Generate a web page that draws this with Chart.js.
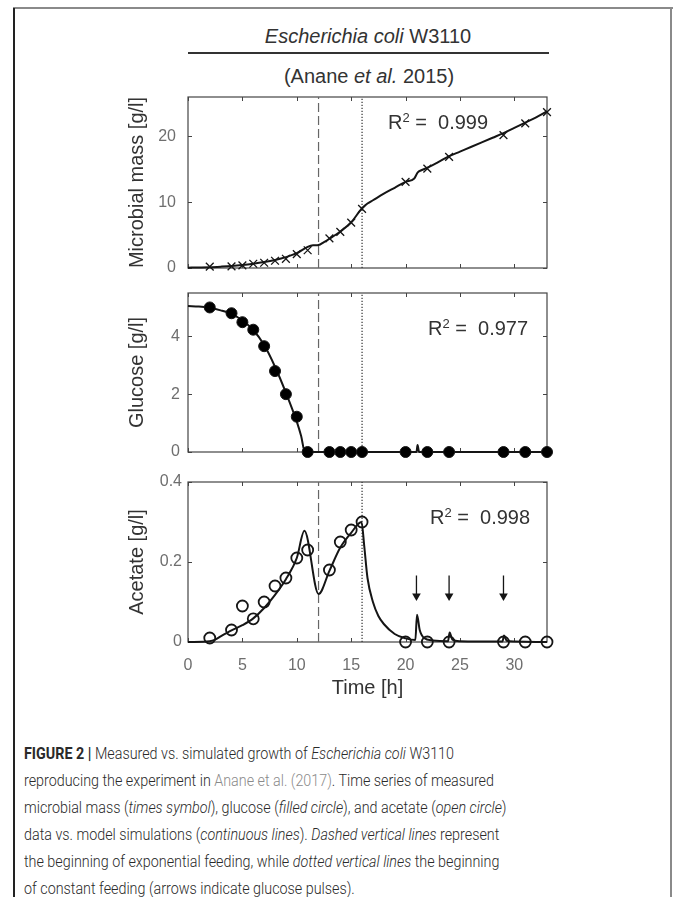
<!DOCTYPE html>
<html><head><meta charset="utf-8">
<script src="https://cdn.jsdelivr.net/npm/chart.js@4.4.1/dist/chart.umd.min.js"></script>
<style>
html,body{margin:0;padding:0;background:#fff;}
body{position:relative;width:674px;height:897px;overflow:hidden;font-family:"Liberation Sans",Arial,sans-serif;color:#333;}
.abs{position:absolute;}
.ctr{position:absolute;transform:translate(-50%,-50%);white-space:nowrap;font-size:20px;color:#333;}
.r2{position:absolute;transform:translateY(-50%);white-space:nowrap;font-size:20px;color:#333;}
.r2 sup{font-size:13px;vertical-align:0;position:relative;top:-7px;}
canvas{position:absolute;left:100px;}
#cap{position:absolute;left:24px;top:740px;font-family:"Roboto",sans-serif;font-weight:300;font-size:16px;line-height:27px;color:#2a2a2a;white-space:nowrap;transform:scaleX(0.895);transform-origin:0 0;}
#cap b{font-weight:700;}
#cap .lk{color:#8a8a8a;}
</style></head><body>
<div class="abs" style="left:13px;top:7px;width:660px;height:2px;background:#8a8a8a"></div>
<div class="abs" style="left:13px;top:8px;width:2px;height:889px;background:#222"></div>
<div class="abs" style="left:670px;top:8px;width:2px;height:889px;background:#8a8a8a"></div>

<div class="ctr" style="left:368px;top:36px;"><i>Escherichia coli</i> W3110</div>
<div class="abs" style="left:188px;top:52px;width:361px;height:1.5px;background:#333"></div>
<div class="ctr" style="left:369px;top:76px;">(Anane <i>et al.</i> 2015)</div>

<canvas id="c1" width="460" height="190" style="top:90px"></canvas>
<canvas id="c2" width="460" height="190" style="top:283px"></canvas>
<canvas id="c3" width="460" height="245" style="top:465px"></canvas>

<div class="r2" style="left:388px;top:122px;">R<sup>2</sup> =&nbsp; 0.999</div>
<div class="r2" style="left:428px;top:328px;">R<sup>2</sup> =&nbsp; 0.977</div>
<div class="r2" style="left:430px;top:517px;">R<sup>2</sup> =&nbsp; 0.998</div>

<div id="cap"><b>FIGURE 2 |</b> Measured vs. simulated growth of <i>Escherichia coli</i> W3110<br>reproducing the experiment in <span class="lk">Anane et al. (2017)</span>. Time series of measured<br>microbial mass (<i>times symbol</i>), glucose (<i>filled circle</i>), and acetate (<i>open circle</i>)<br>data vs. model simulations (<i>continuous lines</i>). <i>Dashed vertical lines</i> represent<br>the beginning of exponential feeding, while <i>dotted vertical lines</i> the beginning<br>of constant feeding (arrows indicate glucose pulses).</div>

<script>
// ---------- DATA ----------
const sampleTime = [2,4,5,6,7,8,9,10,11,13,14,15,16,20,22,24,29,31,33];
const biomassMeasured = [0.2,0.25,0.4,0.65,0.8,1.1,1.4,2.1,2.7,4.5,5.5,6.9,9.0,13.1,15.1,16.9,20.2,22.0,23.7];
const glucoseMeasured = [5.0,4.8,4.49,4.23,3.66,2.8,2.0,1.22,0,0,0,0,0,0,0,0,0,0,0];
const acetateMeasured = [0.01,0.03,0.09,0.058,0.1,0.14,0.16,0.21,0.23,0.18,0.25,0.28,0.3,0,0,0,0,0,0];

const biomassModelTime = [0,1,2,3,4,5,6,7,8,9,10,11,11.5,12,12.5,13,14,15,16,16.5,17,18,19,20,20.8,21.1,21.5,22,23,24,25,26,27,28,29,30,31,32,33];
const biomassModel = [0.05,0.08,0.12,0.2,0.3,0.45,0.65,0.9,1.22,1.65,2.25,3.2,3.45,3.5,3.95,4.45,5.55,6.95,9.1,9.8,10.3,11.3,12.2,13.1,13.6,14.5,14.9,15.25,16.1,17.0,17.7,18.4,19.1,19.8,20.5,21.3,22.1,22.9,23.8];

const glucoseModelTime = [0,1,2,3,4,5,6,7,8,9,10,10.4,10.75,21.0,21.1,21.25,24.0,24.1,24.2,29.0,29.1,29.2,33];
const glucoseModel = [5.05,5.03,4.98,4.9,4.78,4.55,4.22,3.7,2.95,2.05,1.05,0.55,0,0,0.24,0,0,0.12,0,0,0.1,0,0];

const acetateModelTime = [0,2,2.5,3,4,5,6,7,8,9,10,10.7,12,13,14,15,15.95,16.2,16.5,17,17.5,18,19,20,20.9,21.05,21.3,21.7,22.5,23.9,24.05,24.3,25,28.9,29.05,29.3,30,33];
const acetateModel = [0,0.002,0.006,0.014,0.029,0.042,0.059,0.085,0.118,0.157,0.21,0.278,0.12,0.178,0.236,0.273,0.3,0.24,0.16,0.1,0.065,0.045,0.02,0.009,0.005,0.068,0.03,0.01,0.004,0.002,0.024,0.006,0.002,0.001,0.016,0.003,0.001,0];

const pulseTimes = [21,24,29];
const arrowTop = 0.166, arrowTip = 0.115;
const expFeedStart = 12;     // dashed line
const constFeedStart = 16;   // dotted line

const xTicks = [0,5,10,15,20,25,30];
const xMin = 0, xMax = 33;
const biomassTicks = [0,10,20], biomassMax = 26;
const glucoseTicks = [0,2,4], glucoseMax = 5.5;
const acetateTicks = [0,0.2,0.4], acetateMax = 0.4;

// ---------- HELPERS ----------
const pts = (xs, ys) => xs.map((x,i)=>({x, y: ys[i]}));
const INK = '#151515';
const TICKGREY = '#6e6e6e';

const boxTicks = {
  id: 'boxTicks',
  beforeDatasetsDraw(chart) {
    const {ctx, chartArea: a, scales: {x, y}} = chart;
    ctx.save();
    ctx.strokeStyle = '#444';
    ctx.lineWidth = 1.2;
    ctx.strokeRect(a.left, a.top, a.right - a.left, a.bottom - a.top);
    ctx.lineWidth = 1;
    const L = 4;
    ctx.beginPath();
    x.ticks.forEach(t => {
      const px = Math.round(x.getPixelForValue(t.value)) + 0.5;
      ctx.moveTo(px, a.bottom); ctx.lineTo(px, a.bottom - L);
      ctx.moveTo(px, a.top); ctx.lineTo(px, a.top + L);
    });
    y.ticks.forEach(t => {
      const py = Math.round(y.getPixelForValue(t.value)) + 0.5;
      ctx.moveTo(a.left, py); ctx.lineTo(a.left + L, py);
      ctx.moveTo(a.right, py); ctx.lineTo(a.right - L, py);
    });
    ctx.stroke();
    ctx.restore();
  }
};

function vLines(ymax) {
  return [
    {type:'line', data:[{x:expFeedStart,y:0},{x:expFeedStart,y:ymax}], borderColor:'#666', borderWidth:1.2, borderDash:[9,4], pointRadius:0, clip:false, order:5},
    {type:'line', data:[{x:constFeedStart,y:0},{x:constFeedStart,y:ymax}], borderColor:'#333', borderWidth:1.2, borderDash:[1.2,1.8], pointRadius:0, clip:false, order:5}
  ];
}

function makeChart(id, cfg) {
  const xOpts = {
    type:'linear', min:xMin, max:xMax, display: !!cfg.xTitle,
    afterBuildTicks: s => { s.ticks = xTicks.map(v=>({value:v})); },
    grid:{display:false, drawTicks:false}, border:{display:false},
    ticks:{display: !!cfg.xTitle, padding:14, color:TICKGREY, font:{family:'Liberation Sans', size:16}, autoSkip:false, maxRotation:0},
    title: cfg.xTitle ? {display:true, text:cfg.xTitle, color:'#333', font:{family:'Liberation Sans', size:20}, padding:{top:0,bottom:10}} : {display:false},
    afterFit: s => { s.height = cfg.xHeight; s.paddingLeft = 0; s.paddingRight = 0; }
  };
  const yOpts = {
    type:'linear', min:0, max:cfg.ymax,
    afterBuildTicks: s => { s.ticks = cfg.yTicks.map(v=>({value:v})); },
    grid:{display:false, drawTicks:false}, border:{display:false},
    ticks:{padding:cfg.yPad, color:TICKGREY, font:{family:'Liberation Sans', size:16}},
    title:{display:true, text:cfg.yTitle, color:'#333', font:{family:'Liberation Sans', size:20}, padding:{top:5,bottom:0}},
    afterFit: s => { s.width = 68; s.paddingTop = 0; s.paddingBottom = 0; }
  };
  return new Chart(document.getElementById(id), {
    type:'scatter',
    data:{datasets: cfg.datasets},
    options:{
      responsive:false, animation:false, events:[],
      layout:{padding:{left:20, right:13, top:cfg.padTop, bottom:cfg.padBottom}},
      plugins:{legend:{display:false}, tooltip:{enabled:false}},
      scales:{x:xOpts, y:yOpts}
    },
    plugins:[boxTicks]
  });
}

// Panel 1: microbial mass
makeChart('c1', {
  ymax: biomassMax, yTicks: biomassTicks, yTitle:'Microbial mass [g/l]', yPad:12,
  padTop:7, padBottom:12, xHeight:0,
  datasets:[
    ...vLines(biomassMax),
    {type:'line', data:pts(biomassModelTime, biomassModel), borderColor:INK, borderWidth:2, pointRadius:0, cubicInterpolationMode:'monotone', clip:false, order:2},
    {type:'scatter', data:pts(sampleTime, biomassMeasured), pointStyle:'crossRot', pointRadius:5.5, borderColor:INK, borderWidth:1.3, backgroundColor:INK, clip:false, order:1}
  ]
});

// Panel 2: glucose
makeChart('c2', {
  ymax: glucoseMax, yTicks: glucoseTicks, yTitle:'Glucose [g/l]', yPad:8,
  padTop:10, padBottom:21, xHeight:0,
  datasets:[
    ...vLines(glucoseMax),
    {type:'line', data:pts(glucoseModelTime, glucoseModel), borderColor:INK, borderWidth:2, pointRadius:0, cubicInterpolationMode:'monotone', clip:false, order:2},
    {type:'scatter', data:pts(sampleTime, glucoseMeasured), pointStyle:'circle', pointRadius:5.5, borderColor:INK, borderWidth:1, backgroundColor:'#000', clip:false, order:1}
  ]
});

// Panel 3: acetate
const arrows = pulseTimes.map(t => ({
  type:'line', data:[{x:t,y:arrowTop},{x:t,y:arrowTip}], borderColor:INK, borderWidth:1.3,
  pointRadius:[0,5], pointStyle:'triangle', rotation:180, pointBackgroundColor:INK, pointBorderColor:INK, pointBorderWidth:0, clip:false, order:3
}));
makeChart('c3', {
  ymax: acetateMax, yTicks: acetateTicks, yTitle:'Acetate [g/l]', yPad:6,
  padTop:17, padBottom:0, xHeight:68, xTitle:'Time [h]',
  datasets:[
    ...vLines(acetateMax),
    ...arrows,
    {type:'line', data:pts(acetateModelTime, acetateModel), borderColor:INK, borderWidth:2, pointRadius:0, cubicInterpolationMode:'monotone', clip:false, order:2},
    {type:'scatter', data:pts(sampleTime, acetateMeasured), pointStyle:'circle', pointRadius:5.5, borderColor:INK, borderWidth:1.8, backgroundColor:'rgba(255,255,255,0)', clip:false, order:1}
  ]
});
</script>
</body></html>
